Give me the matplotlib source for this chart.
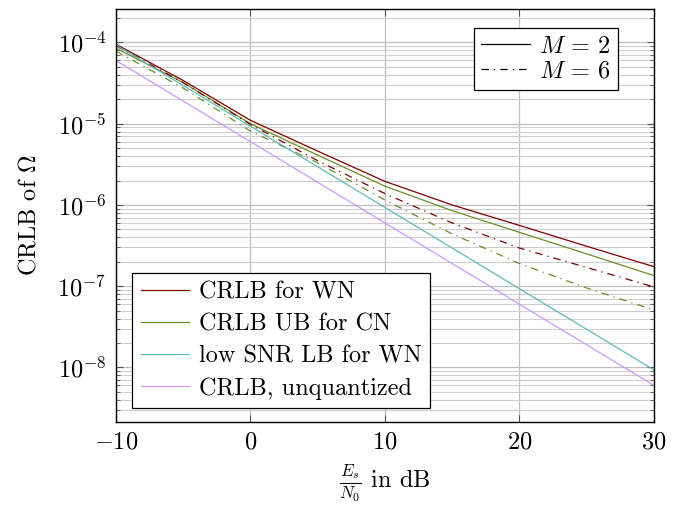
import numpy as np
import matplotlib
matplotlib.use('Agg')
from matplotlib import pyplot as plt
from matplotlib.lines import Line2D
from matplotlib.ticker import FuncFormatter, LogLocator, NullFormatter

plt.rcParams['font.family'] = 'cmr10'
plt.rcParams['mathtext.fontset'] = 'cm'
plt.rcParams['axes.formatter.use_mathtext'] = True

# Es/N0 in dB
snr_db = [-10, -5, 0, 5, 10, 15, 20, 25, 30]

# M = 2 (solid)
crlb_wn_m2 = [9.5e-5, 3.4e-5, 1.1e-5, 4.6e-6, 1.95e-6, 1.0e-6, 5.6e-7, 3.1e-7, 1.74e-7]
crlb_ub_cn_m2 = [8.5e-5, 3.2e-5, 1.0e-5, 4.1e-6, 1.7e-6, 8.5e-7, 4.6e-7, 2.5e-7, 1.35e-7]
# M = 6 (dash-dot)
crlb_wn_m6 = [9.1e-5, 3.2e-5, 9.8e-6, 3.5e-6, 1.38e-6, 6.0e-7, 2.95e-7, 1.7e-7, 9.8e-8]
crlb_ub_cn_m6 = [7.8e-5, 2.75e-5, 8.1e-6, 3.3e-6, 1.15e-6, 4.4e-7, 1.9e-7, 9.5e-8, 5.1e-8]
# bounds
low_snr_lb_wn = [9.3e-5, 2.95e-5, 9.3e-6, 2.95e-6, 9.3e-7, 2.95e-7, 9.3e-8, 2.95e-8, 9.3e-9]
crlb_unquant = [6.0e-5, 1.9e-5, 6.0e-6, 1.9e-6, 6.0e-7, 1.9e-7, 6.0e-8, 1.9e-8, 6.0e-9]

c_red = '#800000'
c_green = '#6b8e23'
c_cyan = '#5cbcbc'
c_purple = '#cc99ff'
dashdot = (0, (6, 4, 1, 4))
lw = 0.9
fs = 17.5

fig = plt.figure(figsize=(6.79, 5.05), dpi=100)
ax = fig.add_axes([116/679, 1-421.7/505, 538/679, 412.4/505])

ax.plot(snr_db, crlb_wn_m2, color=c_red, lw=lw)
ax.plot(snr_db, crlb_ub_cn_m2, color=c_green, lw=lw)
ax.plot(snr_db, crlb_wn_m6, color=c_red, lw=lw, linestyle=dashdot)
ax.plot(snr_db, crlb_ub_cn_m6, color=c_green, lw=lw, linestyle=dashdot)
ax.plot(snr_db, low_snr_lb_wn, color=c_cyan, lw=lw)
ax.plot(snr_db, crlb_unquant, color=c_purple, lw=lw)

ax.set_yscale('log')
ax.set_xlim(-10, 30)
ax.set_ylim(2.15e-9, 2.56e-4)
ax.set_xticks([-10, 0, 10, 20, 30])
ax.xaxis.set_major_formatter(FuncFormatter(lambda v, p: r'$%d$' % v))
ax.yaxis.set_major_locator(LogLocator(base=10, numticks=20))
ax.yaxis.set_minor_locator(LogLocator(base=10, subs=np.arange(2, 10), numticks=20))
ax.yaxis.set_major_formatter(FuncFormatter(lambda v, p: r'$10^{%d}$' % round(np.log10(v))))
ax.yaxis.set_minor_formatter(NullFormatter())

ax.grid(True, which='major', color='#bfbfbf', lw=0.9)
ax.grid(True, which='minor', axis='y', color='#cfcfcf', lw=0.8)
ax.set_axisbelow(True)
ax.tick_params(which='both', direction='in', top=True, right=True, labelsize=fs, color='#555555')
ax.tick_params(which='major', length=5, pad=7)
ax.tick_params(which='minor', length=3)
for s in ax.spines.values():
    s.set_linewidth(1.0)

ax.set_xlabel(r'$\frac{E_s}{N_0}$ in dB', fontsize=fs, labelpad=6)
ax.set_ylabel(r'CRLB of $\Omega$', fontsize=fs, labelpad=12)

h1 = [Line2D([], [], color=c, lw=lw) for c in (c_red, c_green, c_cyan, c_purple)]
leg1 = ax.legend(h1, ['CRLB for WN', 'CRLB UB for CN', 'low SNR LB for WN', 'CRLB, unquantized'],
                 loc='lower left', bbox_to_anchor=(0.03, 0.0325), borderaxespad=0,
                 fontsize=fs, fancybox=False, framealpha=1, edgecolor='black',
                 handlelength=2.0, handletextpad=0.4, labelspacing=0.41, borderpad=0.35)
leg1.get_frame().set_linewidth(0.9)
ax.add_artist(leg1)

h2 = [Line2D([], [], color='black', lw=lw),
      Line2D([], [], color='black', lw=lw, linestyle=dashdot)]
leg2 = ax.legend(h2, [r'$M\,=\,2$', r'$M\,=\,6$'], loc='upper right',
                 bbox_to_anchor=(1 - 36/538, 1 - 19/412.4), borderaxespad=0,
                 fontsize=fs, fancybox=False, framealpha=1, edgecolor='black',
                 handlelength=2.0, handletextpad=0.4, labelspacing=0.1, borderpad=0.3)
leg2.get_frame().set_linewidth(0.9)

fig.savefig('out.png', dpi=100)
